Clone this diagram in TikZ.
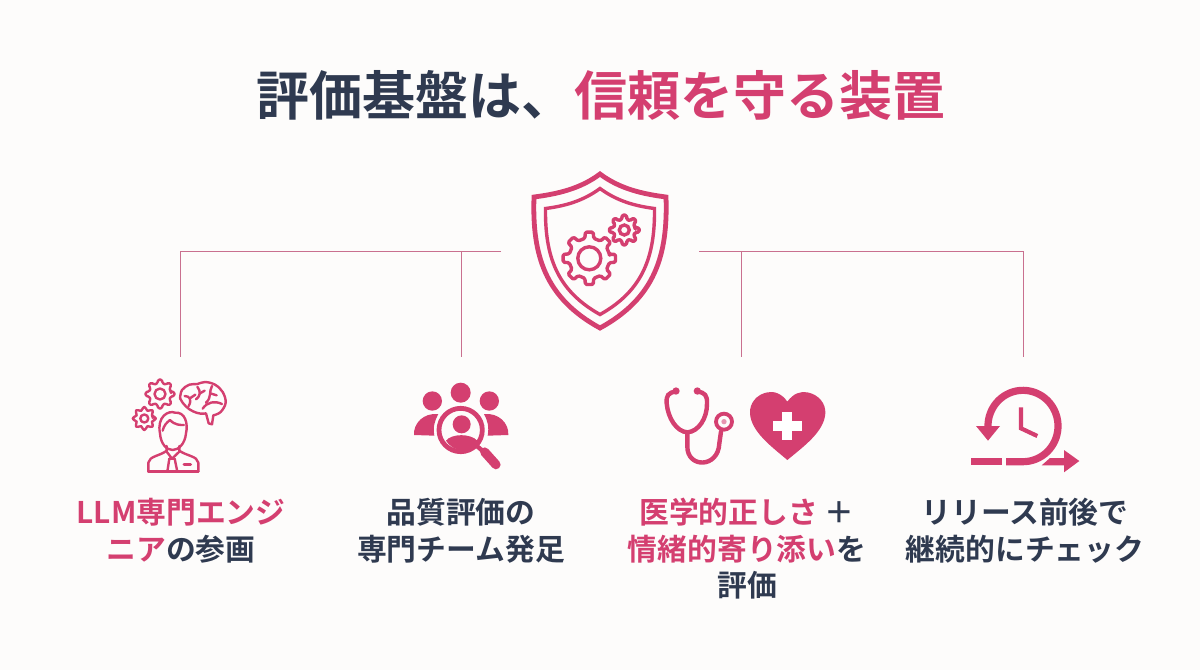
\documentclass[tikz,border=0pt]{standalone}
\usepackage{fontspec}
\setmainfont{Noto Sans CJK JP}[BoldFont={Noto Sans CJK JP Bold}]
\definecolor{pk}{HTML}{D43F70}
\definecolor{dk}{HTML}{2F3A50}
\definecolor{ln}{HTML}{C9708F}
\definecolor{bg}{HTML}{FDFCFB}
\newcommand{\pk}[1]{\textcolor{pk}{#1}}
% cx cy root tip teeth
\newcommand{\gearshape}[5]{%
  \draw[rounded corners=0.7pt,line join=round]
   ({#1+#3*cos(-180/#5*0.5)},{#2+#3*sin(-180/#5*0.5)})
   \foreach \gi in {1,...,#5}{
     \pgfextra{\pgfmathsetmacro\ga{(\gi-1)*360/#5}\pgfmathsetmacro\gs{180/#5}}
     -- ({#1+#4*cos(\ga-\gs*0.38)},{#2+#4*sin(\ga-\gs*0.38)})
     -- ({#1+#4*cos(\ga+\gs*0.38)},{#2+#4*sin(\ga+\gs*0.38)})
     -- ({#1+#3*cos(\ga+\gs*0.55)},{#2+#3*sin(\ga+\gs*0.55)})
     -- ({#1+#3*cos(\ga+\gs*1.45)},{#2+#3*sin(\ga+\gs*1.45)})
   } -- cycle;}
\tikzset{
  link/.style={draw=ln,line width=0.42pt},
  title/.style={font=\bfseries\fontsize{26.5}{32}\selectfont,text=dk,inner sep=0,anchor=center},
  label/.style={font=\bfseries\fontsize{14.9}{18.2}\selectfont,text=dk,align=center,inner sep=0,anchor=north},
  ic/.style={draw=pk,fill=none,line width=#1},
  ic/.default=1pt,
}
\begin{document}
\begin{tikzpicture}[x=0.5pt,y=-0.5pt]
\useasboundingbox (0,0) rectangle (1200,670);
\fill[bg] (0,0) rectangle (1200,670);

% title
\node[title] (ttl) at (601,95) {評価基盤は、\pk{信頼を守る装置}};

% connector anchors
\coordinate (sl) at (501,251);
\coordinate (sr) at (699,251);
\coordinate (a1) at (180,251);
\coordinate (a2) at (461,251);
\coordinate (a3) at (741,251);
\coordinate (a4) at (1023,251);
\coordinate (b1) at (180,357);
\coordinate (b2) at (461,357);
\coordinate (b3) at (741,357);
\coordinate (b4) at (1023,357);
\draw[link] (sl) -- (a1) -- (b1);
\draw[link] (a2) -- (b2);
\draw[link] (sr) -- (a4) -- (b4);
\draw[link] (a3) -- (b3);

% shield
\draw[ic=2.4pt,line join=miter]
  (600,174) .. controls (580,189) and (557,194) .. (534,197)
  .. controls (532,255) and (545,298) .. (600,328)
  .. controls (655,298) and (668,255) .. (666,197)
  .. controls (643,194) and (620,189) .. (600,174) -- cycle;
\draw[ic=1.7pt,line join=miter]
  (600,188.5) .. controls (583,201) and (565,206) .. (545.5,208.5)
  .. controls (545,255) and (556,290) .. (600,314.5)
  .. controls (644,290) and (655,255) .. (654.5,208.5)
  .. controls (635,206) and (617,201) .. (600,188.5) -- cycle;
\begin{scope}[ic=1.7pt]
  \gearshape{589.3}{258.3}{20.5}{26.5}{8}
  \draw (589.3,258.3) circle[radius=11.5];
  \gearshape{624.3}{230}{11}{15}{8}
  \draw (624.3,230) circle[radius=5];
\end{scope}

% icon 1: engineer
\begin{scope}[ic=1.2pt,line join=round,line cap=round]
  \gearshape{160}{394}{11}{14.5}{8}
  \draw (160,394) circle[radius=5.5];
  \gearshape{144.3}{418.5}{8.5}{11.5}{8}
  \draw (144.3,418.5) circle[radius=4];
\end{scope}
\begin{scope}[shift={(120,370)},scale=1/3,ic=1.2pt,line join=round,line cap=round]
  % brain
  \draw plot[smooth,tension=0.6] coordinates {(180,85) (186,60) (208,44) (232,42) (255,36) (285,44) (308,66) (317,98) (302,126) (280,136)};
  \draw (280,136) -- (276,163) -- (266,160) -- (258,130) .. controls (240,135) and (200,125) .. (180,85);
  \draw (194,78) .. controls (210,78) and (216,90) .. (206,108);
  \draw (211,84) -- (226,74);
  \draw (232,50) .. controls (244,65) and (240,80) .. (228,88);
  \draw (240,70) -- (254,62);
  \draw (276,48) .. controls (266,65) and (276,82) .. (258,98);
  \draw (271,70) -- (290,76);
  \draw (306,102) .. controls (285,92) and (262,95) .. (248,116);
\end{scope}
\begin{scope}[shift={(120,370)},scale=1/3,ic=1.2pt,line join=round,line cap=round]
  % head
  \draw (120,190) .. controls (110,140) and (145,120) .. (165,128)
        .. controls (195,125) and (205,160) .. (198,190)
        .. controls (195,222) and (175,240) .. (158,240)
        .. controls (140,240) and (122,222) .. (120,190);
  \draw (128,182) .. controls (132,165) and (140,158) .. (150,150)
        .. controls (165,166) and (182,165) .. (192,165);
  % body
  \draw (85,305) -- (85,278) .. controls (88,258) and (120,258) .. (140,242) -- (140,228);
  \draw (235,305) -- (235,278) .. controls (232,258) and (200,258) .. (178,242) -- (178,228);
  \draw (85,305) -- (235,305);
  \draw (140,245) -- (156,266) -- (178,245);
  \draw (148,266) -- (164,266) -- (172,305);
  \draw (148,266) -- (142,305);
  \draw[line width=1.5pt] (192,282) -- (212,282);
\end{scope}

% icon 2: team under magnifier
\begin{scope}[shift={(400,370)},scale=1/3]
  \fill[pk] (182,68) circle[radius=30];
  \fill[pk] (97,93) circle[radius=29];
  \fill[pk] (268,93) circle[radius=29];
  \fill[pk] (42,195) .. controls (40,160) and (70,128) .. (115,132)
     .. controls (105,150) and (98,170) .. (103,197) -- cycle;
  \fill[pk] (325,195) .. controls (327,160) and (297,128) .. (252,132)
     .. controls (262,150) and (268,170) .. (263,197) -- cycle;
  \draw[pk,line width=2.4pt] (182,180) circle[radius=65];
  \fill[pk] (185,163) circle[radius=27];
  \fill[pk] (138,212) .. controls (155,190) and (212,190) .. (232,212)
     .. controls (222,228) and (205,240) .. (185,240)
     .. controls (165,240) and (148,228) .. (138,212) -- cycle;
  \draw[pk,line width=2.2pt] (228,226) -- (252,246);
  \draw[pk,line width=4.6pt,line cap=round] (254,246) -- (288,284);
\end{scope}

% icon 3: stethoscope + heart
\begin{scope}[shift={(650,375)},scale=1/3,line cap=round]
  \fill[pk] (78,48) circle[radius=11];
  \fill[pk] (142,48) circle[radius=11];
  \draw[pk,line width=2.2pt] (78,50) .. controls (55,52) and (48,62) .. (50,85)
     .. controls (54,130) and (80,170) .. (112,172)
     .. controls (145,170) and (172,130) .. (171,85)
     .. controls (172,62) and (165,52) .. (142,50);
  \draw[pk,line width=2.2pt] (112,172) -- (112,215)
     .. controls (112,280) and (205,280) .. (208,205) -- (213,170);
  \draw[pk,line width=1.9pt] (222,140) circle[radius=24];
  \fill[pk!55] (222,140) circle[radius=8];
  \fill[pk] (412,80) .. controls (395,55) and (372,48) .. (352,52)
     .. controls (320,58) and (298,85) .. (300,115)
     .. controls (303,170) and (365,215) .. (412,255)
     .. controls (460,215) and (523,170) .. (526,115)
     .. controls (528,85) and (505,58) .. (472,52)
     .. controls (452,48) and (430,55) .. (412,80) -- cycle;
  \fill[white] (397,110) rectangle (427,196);
  \fill[white] (369,138) rectangle (456,168);
\end{scope}

% icon 4: clock loop
\begin{scope}[shift={(960,375)},scale=1/3]
  \fill[pk] (32,249) rectangle (125,271);
  \draw[pk,line width=3.6pt] plot[domain=180:450,samples=90] ({189+105*cos(\x)},{153+107*sin(\x)}) -- (138,260);
  \fill[pk] (48,153) -- (120,153) -- (84,197) -- cycle;
  \draw[pk,line width=2.1pt,line join=miter] (183,97) -- (183,160) -- (232,183);
  \fill[pk] (245,271) -- (270,249) -- (312,249) -- (312,225) -- (358,258) -- (312,292) -- (312,271) -- cycle;
\end{scope}

% labels
\node[label] (l1) at (181,498) {\pk{LLM専門エンジ}\\\pk{ニア}の参画};
\node[label] (l2) at (461,498) {品質評価の\\専門チーム発足};
\node[label] (l3) at (747,498) {\pk{医学的正しさ} ＋\\\pk{情緒的寄り添い}を\\評価};
\node[label] (l4) at (1025,498) {リリース前後で\\継続的にチェック};
\end{tikzpicture}
\end{document}
